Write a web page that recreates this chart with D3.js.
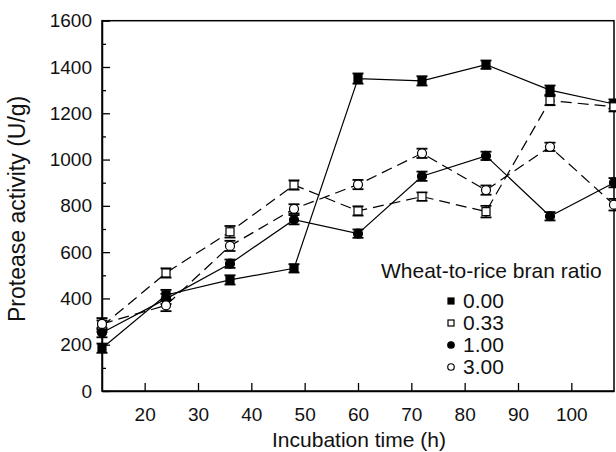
<!DOCTYPE html>
<html>
<head>
<meta charset="utf-8">
<script src="https://cdn.jsdelivr.net/npm/d3@7"></script>
<style>
  html, body { margin: 0; padding: 0; background: #fff; }
  svg { display: block; font-family: "Liberation Sans", Arial, Helvetica, sans-serif; }
</style>
</head>
<body>
<svg id="chart" width="616" height="452"></svg>
<script>
// Incubation times (h)
const times = [12, 24, 36, 48, 60, 72, 84, 96, 108];

// Protease activity (U/g) for each wheat-to-rice bran ratio
const ratio000 = [185, 415, 480, 530, 1350, 1340, 1410, 1300, 1240];
const ratio033 = [280, 510, 688, 890, 778, 840, 775, 1255, 1228];
const ratio100 = [252, 398, 550, 740, 680, 928, 1016, 755, 900];
const ratio300 = [290, 370, 627, 787, 892, 1027, 868, 1055, 805];

// Standard errors (U/g)
const err000 = [20, 22, 20, 18, 22, 20, 18, 20, 20];
const err033 = [25, 20, 25, 20, 20, 18, 25, 20, 20];
const err100 = [20, 22, 18, 20, 18, 20, 18, 18, 20];
const err300 = [25, 25, 22, 20, 20, 20, 20, 18, 25];

const ratioLabels = ["0.00", "0.33", "1.00", "3.00"];
const xTicks = [20, 30, 40, 50, 60, 70, 80, 90, 100];
const yTicks = [0, 200, 400, 600, 800, 1000, 1200, 1400, 1600];
const yMinorTicks = [100, 300, 500, 700, 900, 1100, 1300, 1500];

const series = [
  { label: ratioLabels[0], values: ratio000, errors: err000, shape: "square", filled: true,  dashed: false },
  { label: ratioLabels[1], values: ratio033, errors: err033, shape: "square", filled: false, dashed: true },
  { label: ratioLabels[2], values: ratio100, errors: err100, shape: "circle", filled: true,  dashed: false },
  { label: ratioLabels[3], values: ratio300, errors: err300, shape: "circle", filled: false, dashed: true }
];

const svg = d3.select("#chart");
const plot = { left: 102, right: 614, top: 20.7, bottom: 391 };

const x = d3.scaleLinear().domain([12, 108]).range([plot.left, plot.right]);
const y = d3.scaleLinear().domain([0, 1600]).range([plot.bottom, plot.top]);

// Frame
svg.append("rect")
  .attr("x", plot.left).attr("y", plot.top)
  .attr("width", plot.right - plot.left).attr("height", plot.bottom - plot.top)
  .attr("fill", "none").attr("stroke", "#000").attr("stroke-width", 1.5);

// Axes with inward ticks
const xAxis = svg.append("g").attr("transform", `translate(0,${plot.bottom})`)
  .call(d3.axisBottom(x).tickValues(xTicks).tickFormat(d3.format("d"))
    .tickSizeInner(-8).tickSizeOuter(0).tickPadding(17));
const yAxis = svg.append("g").attr("transform", `translate(${plot.left},0)`)
  .call(d3.axisLeft(y).tickValues(yTicks).tickFormat(d3.format("d"))
    .tickSizeInner(-8).tickSizeOuter(0).tickPadding(10));
svg.append("g").attr("transform", `translate(${plot.left},0)`)
  .call(d3.axisLeft(y).tickValues(yMinorTicks).tickSizeInner(-4).tickSizeOuter(0).tickFormat(""))
  .call(g => g.select(".domain").remove());

[xAxis, yAxis].forEach(g => {
  g.select(".domain").attr("stroke-width", 1.5);
  g.selectAll(".tick text").attr("font-size", 19).attr("fill", "#111")
    .attr("font-family", "'Liberation Sans', Arial, sans-serif");
});
svg.selectAll(".tick line").attr("stroke-width", 1.3);

// Axis titles
svg.append("text")
  .attr("x", 359).attr("y", 447)
  .attr("text-anchor", "middle").attr("font-size", 21).attr("fill", "#111")
  .text("Incubation time (h)");
svg.append("text")
  .attr("transform", `translate(25,${(plot.top + plot.bottom) / 2 + 3}) rotate(-90)`)
  .attr("text-anchor", "middle").attr("font-size", 23).attr("fill", "#111")
  .text("Protease activity (U/g)");

// Lines
const line = d3.line().x((d, i) => x(times[i])).y(d => y(d));
series.forEach(s => {
  svg.append("path")
    .datum(s.values)
    .attr("d", line)
    .attr("fill", "none")
    .attr("stroke", "#000")
    .attr("stroke-width", 1.2)
    .attr("stroke-dasharray", s.dashed ? "11,6" : null);
});

// Error bars
series.forEach(s => {
  const g = svg.append("g").attr("stroke", "#000");
  s.values.forEach((v, i) => {
    const cx = x(times[i]);
    const y1 = y(v + s.errors[i]), y2 = y(v - s.errors[i]);
    g.append("line").attr("x1", cx).attr("x2", cx).attr("y1", y1).attr("y2", y2).attr("stroke-width", 1.3);
    [y1, y2].forEach(yy => g.append("line")
      .attr("x1", cx - 5.5).attr("x2", cx + 5.5).attr("y1", yy).attr("y2", yy).attr("stroke-width", 1.8));
  });
});

// Markers
function drawMarker(g, shape, filled, cx, cy, size) {
  if (shape === "square") {
    g.append("rect")
      .attr("x", cx - size / 2).attr("y", cy - size / 2)
      .attr("width", size).attr("height", size)
      .attr("fill", filled ? "#000" : "#fff").attr("stroke", "#000").attr("stroke-width", 1.2);
  } else {
    g.append("circle")
      .attr("cx", cx).attr("cy", cy).attr("r", size / 2)
      .attr("fill", filled ? "#000" : "#fff").attr("stroke", "#000").attr("stroke-width", 1.2);
  }
}
series.forEach(s => {
  const g = svg.append("g");
  s.values.forEach((v, i) => drawMarker(g, s.shape, s.filled, x(times[i]), y(v), s.shape === "square" ? 8 : 9));
});

// Legend
const legend = svg.append("g");
legend.append("text")
  .attr("x", 381).attr("y", 278)
  .attr("font-size", 21).attr("fill", "#111")
  .text("Wheat-to-rice bran ratio");
series.forEach((s, i) => {
  const by = 308 + i * 22;
  drawMarker(legend, s.shape, s.filled, 451, by - 7, s.shape === "square" ? 6 : 6.5);
  legend.append("text")
    .attr("x", 463).attr("y", by)
    .attr("font-size", 21).attr("fill", "#111")
    .text(s.label);
});
</script>
</body>
</html>
